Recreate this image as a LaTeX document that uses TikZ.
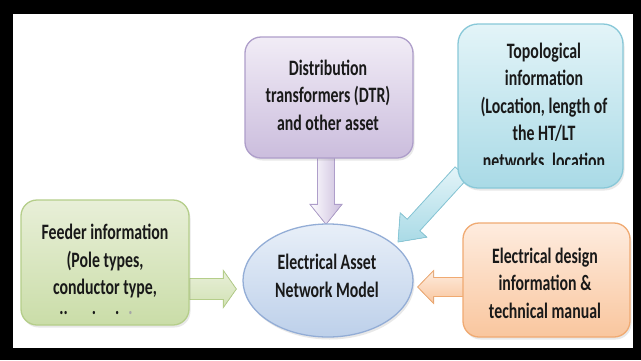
\documentclass[tikz,border=0pt]{standalone}
\usepackage{fontspec}
\setmainfont{Carlito}[FakeStretch=0.72]
\usetikzlibrary{calc,shadows,backgrounds,shapes.geometric}
\definecolor{gtop}{HTML}{E8EFD8}\definecolor{gbot}{HTML}{CADDA8}\definecolor{gbrd}{HTML}{B5CE8A}
\definecolor{ptop}{HTML}{F1ECF6}\definecolor{pbot}{HTML}{CBBDDD}\definecolor{pbrd}{HTML}{AE9ECA}
\definecolor{ttop}{HTML}{E3F4F8}\definecolor{tbot}{HTML}{A9DAE6}\definecolor{tbrd}{HTML}{88C8D8}
\definecolor{otop}{HTML}{FEECDF}\definecolor{obot}{HTML}{F9C69E}\definecolor{obrd}{HTML}{F0AA72}
\definecolor{etop}{HTML}{E8EFF8}\definecolor{ebot}{HTML}{BDD0EA}\definecolor{ebrd}{HTML}{93ADD6}
\newcommand{\blockarrow}[6]{%
  \path ($(#2)!#5!(#1)$) coordinate (bah);
  \filldraw[#6] ($(#1)!#3!90:(#2)$) -- ($(bah)!#3!90:(#2)$) -- ($(bah)!#4!90:(#2)$)
    -- (#2) -- ($(bah)!#4!-90:(#2)$) -- ($(bah)!#3!-90:(#2)$) -- ($(#1)!#3!-90:(#2)$) -- cycle;}
\begin{document}
\begin{tikzpicture}[x=1pt,y=-1pt,
  box/.style={rounded corners=16pt, line width=1.3pt, inner sep=0pt,
    drop shadow={opacity=0.18, shadow xshift=1.5pt, shadow yshift=-2.5pt}},
  txt/.style={align=center, inner sep=0pt, text=black!90,
    font=\fontsize{22}{27.5}\selectfont\bfseries},
  arr/.style={line width=0.8pt, line join=miter}]
\useasboundingbox (0,0) rectangle (641,360);
% boxes
\node[box, draw=gbrd, top color=gtop, bottom color=gbot, minimum width=168pt, minimum height=125pt] (feed) at (105,262.5) {};
\node[box, draw=pbrd, top color=ptop, bottom color=pbot, minimum width=168pt, minimum height=121pt] (dtr) at (329,97.5) {};
\node[box, rounded corners=20pt, draw=tbrd, top color=ttop, bottom color=tbot, minimum width=165pt, minimum height=164pt] (topo) at (540.5,106) {};
\node[box, draw=obrd, top color=otop, bottom color=obot, minimum width=167pt, minimum height=114pt] (elec) at (546.5,280) {};
\node[draw=ebrd, line width=1.3pt, ellipse, top color=etop, bottom color=ebot, minimum width=170pt, minimum height=113pt, inner sep=0pt,
  drop shadow={opacity=0.18, shadow xshift=1.5pt, shadow yshift=-2.5pt}] (model) at (328,280.5) {};
% texts
\node[txt] (feedt) at (105,261) {Feeder information\\(Pole types,\\conductor type,};
\node[txt, font=\fontsize{22}{22}\selectfont\bfseries] (feedd) at (96,313) {..\hspace{24pt}.\hspace{19pt}.\hspace{9pt}{\color{black!35}.}};
\node[txt] (dtrt) at (328,95) {Distribution\\transformers (DTR)\\and other asset};
\begin{scope}
  \clip (458,24) rectangle (623,164.5);
  \node[txt] (topot) at (544,107) {Topological\\information\\(Location, length of\\the HT/LT\\networks, location};
\end{scope}
\node[txt] (elect) at (545,283) {Electrical design\\information \&\\technical manual};
\node[txt] (modelt) at (327,276) {Electrical Asset\\Network Model};
% connector end points
\coordinate (gA) at ($(feed.east)+(0,26.5)$);
\coordinate (gB) at ($(model.west)+(-6,8.5)$);
\coordinate (pA) at ($(dtr.south)+(-3,-2)$);
\coordinate (pB) at ($(model.north)+(-2,1)$);
\coordinate (tA) at ($(topo.south west)+(4,-16)$);
\coordinate (tB) at (398,242);
\coordinate (oA) at ($(elec.west)+(2,7)$);
\coordinate (oB) at ($(model.east)+(4,6.5)$);
\begin{pgfonlayer}{background}
\fill[black] (0,0) rectangle (641,360);
\fill[white] (13,14) rectangle (633,348);
\blockarrow{gA}{gB}{10.5pt}{18.5pt}{13pt}{arr, draw=gbrd, top color=gtop, bottom color=gbot!85}
\blockarrow{pA}{pB}{8.5pt}{16pt}{20pt}{arr, draw=pbrd, left color=white!90!ptop, right color=pbot}
\blockarrow{tA}{tB}{8.5pt}{18pt}{23pt}{arr, draw=tbrd, top color=ttop, bottom color=tbot}
\blockarrow{oA}{oB}{9.5pt}{16.5pt}{16pt}{arr, draw=obrd, top color=otop, bottom color=obot}
\end{pgfonlayer}
\end{tikzpicture}
\end{document}
